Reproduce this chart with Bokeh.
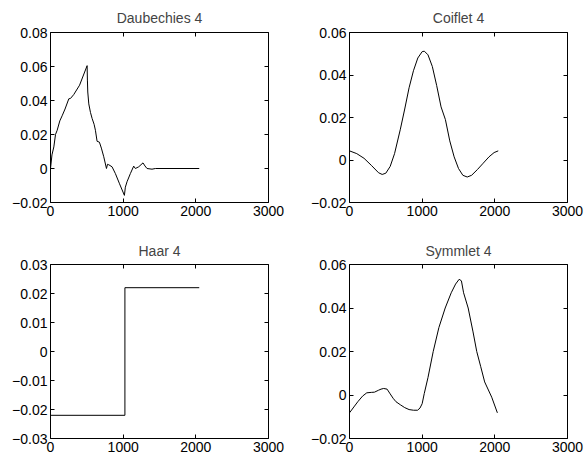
from bokeh.plotting import figure
from bokeh.layouts import column, row
from bokeh.models import LinearAxis, FixedTicker
from bokeh.embed import file_html
from bokeh.resources import INLINE

# ---- data ----
x_ticks = [0, 1000, 2000, 3000]

daub_x = [0, 20, 46, 69, 92, 128, 160, 200, 252, 275, 320, 400, 504,
          508, 513, 527, 550, 573, 600, 618, 641, 673, 700, 733, 770,
          785, 802, 847, 893, 950, 1017, 1030, 1053, 1099, 1145, 1168,
          1214, 1273, 1300, 1328, 1397, 1443, 2047]
daub_y = [0.0, 0.008, 0.0127, 0.020, 0.0225, 0.028, 0.031, 0.035, 0.041,
          0.0412, 0.0435, 0.049, 0.0605,
          0.052, 0.045, 0.038, 0.033, 0.0294, 0.026, 0.0225, 0.0160,
          0.0155, 0.012, 0.0069, 0.0,
          0.0025, 0.0022, 0.0010, -0.003, -0.009, -0.0158, -0.011,
          -0.0078, -0.003, 0.0014, 0.0,
          0.001, 0.0033, 0.0015, 0.0, -0.0004, 0.0, 0.0]
daub_yticks = [-0.02, 0, 0.02, 0.04, 0.06, 0.08]

coif_x = [0, 100, 200, 300, 400, 450, 500, 560, 620, 700, 760, 820, 880,
          940, 1000, 1030, 1080, 1140, 1200, 1260, 1320, 1380, 1440, 1500,
          1560, 1620, 1680, 1760, 1840, 1920, 1990, 2047]
coif_y = [0.0043, 0.0030, 0.0008, -0.0025, -0.0060, -0.0068, -0.0062,
          -0.0030, 0.0030, 0.0145, 0.0240, 0.0340, 0.0420, 0.0480, 0.0510,
          0.0512, 0.0495, 0.0440, 0.0350, 0.0250, 0.0190, 0.0090, 0.0015,
          -0.0040, -0.0072, -0.0080, -0.0072, -0.0045, -0.0015, 0.0015,
          0.0035, 0.0043]
coif_yticks = [-0.02, 0, 0.02, 0.04, 0.06]

haar_x = [0, 1024, 2047]
haar_y = [-0.022, 0.022, 0.022]
haar_yticks = [-0.03, -0.02, -0.01, 0, 0.01, 0.02, 0.03]

sym_x = [0, 60, 114, 180, 238, 300, 343, 400, 434, 470, 517, 560, 600,
         640, 700, 760, 820, 880, 937, 970, 1000, 1029, 1080, 1152, 1230,
         1317, 1400, 1460, 1509, 1540, 1570, 1633, 1700, 1751, 1806, 1860,
         1957, 2035]
sym_y = [-0.0082, -0.0055, -0.0031, -0.0005, 0.0010, 0.0012, 0.0013,
         0.0022, 0.0027, 0.0030, 0.0027, 0.0005, -0.0015, -0.0031, -0.0045,
         -0.0058, -0.0067, -0.0070, -0.0070, -0.0060, -0.0040, 0.0007,
         0.0080, 0.0200, 0.0310, 0.0400, 0.0470, 0.0510, 0.0532, 0.0525,
         0.0470, 0.0400, 0.0290, 0.0200, 0.0130, 0.0060, -0.0010, -0.0082]
sym_yticks = [-0.02, 0, 0.02, 0.04, 0.06]

titles = ["Daubechies 4", "Coiflet 4", "Haar 4", "Symmlet 4"]

FONT = "Liberation Sans"
FS = "14px"
TFS = "14px"


def fmt(v):
    if v == 0:
        return "0"
    s = ("%.2f" % v)
    return s.replace("-", "\u2212")


def style_axis(ax, ticks, labels=True, fmt_fn=None):
    ax.ticker = FixedTicker(ticks=ticks)
    ax.minor_tick_line_color = None
    ax.major_tick_in = 4
    ax.major_tick_out = 0
    ax.axis_line_color = None
    ax.major_tick_line_color = "black"
    ax.major_label_text_font = FONT
    ax.major_label_text_color = "black"
    ax.major_label_text_font_size = FS
    if labels:
        ax.major_label_standoff = 3
        if fmt_fn is not None:
            ax.major_label_overrides = {t: fmt_fn(t) for t in ticks}
        else:
            ax.major_label_overrides = {t: str(t) for t in ticks}
    else:
        ax.major_label_standoff = 0
        ax.major_label_overrides = {t: "" for t in ticks}


def make(title, yr, yticks, w, h, bl, br, bt, bb, ts):
    p = figure(width=w, height=h, x_range=(0, 3000), y_range=yr,
               output_backend="svg", toolbar_location=None,
               min_border_left=bl, min_border_right=br,
               min_border_top=bt, min_border_bottom=bb)
    p.title.text = title
    p.title.align = "center"
    p.title.text_font = FONT
    p.title.text_font_size = TFS
    p.title.text_font_style = "normal"
    p.title.standoff = ts
    p.grid.visible = False
    p.outline_line_color = "black"
    p.outline_line_width = 1
    p.background_fill_color = "white"
    p.border_fill_color = "white"
    style_axis(p.xaxis[0], x_ticks, True)
    style_axis(p.yaxis[0], yticks, True, fmt)
    top = LinearAxis()
    style_axis(top, x_ticks, False)
    right = LinearAxis()
    style_axis(right, yticks, False)
    p.add_layout(top, "above")
    p.add_layout(right, "right")
    return p


p1 = make(titles[0], (-0.02, 0.08), daub_yticks, 298, 234, 50, 30, 32, 32, 14)
p1.line(daub_x, daub_y, line_color="black", line_width=1)

p2 = make(titles[1], (-0.02, 0.06), coif_yticks, 286, 234, 51, 17, 32, 32, 14)
p2.line(coif_x, coif_y, line_color="black", line_width=1)

p3 = make(titles[2], (-0.03, 0.03), haar_yticks, 298, 226, 50, 30, 30, 22, 11)
p3.step(haar_x, haar_y, mode="after", line_color="black", line_width=1)

p4 = make(titles[3], (-0.02, 0.06), sym_yticks, 286, 226, 51, 17, 30, 22, 11)
p4.line(sym_x, sym_y, line_color="black", line_width=1)

layout = column(row(p1, p2), row(p3, p4))

open("out.html", "w").write(file_html(layout, INLINE))
